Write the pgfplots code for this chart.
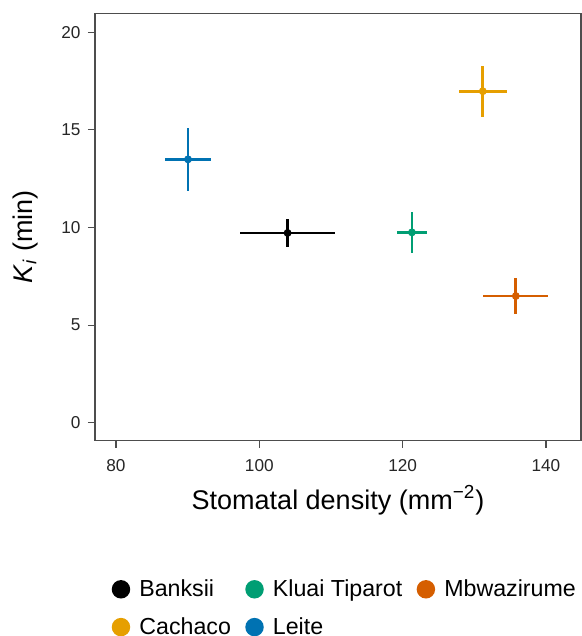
\documentclass[border=0pt]{standalone}
\usepackage{fontspec}
\setmainfont{Liberation Sans}
\usepackage{pgfplots}
\pgfplotsset{compat=1.18}
\definecolor{cBanksii}{HTML}{000000}
\definecolor{cKluai}{HTML}{009E73}
\definecolor{cMbwa}{HTML}{D55E00}
\definecolor{cCachaco}{HTML}{E69F00}
\definecolor{cLeite}{HTML}{0072B2}
\definecolor{framegray}{RGB}{77,77,77}
\pgfplotsset{
  kiseries/.style={only marks, color=#1, mark=*, mark size=1.75pt,
    mark options={fill=#1, draw=#1, line width=0.4pt},
    line width=1.4pt,
    error bars/x dir=both, error bars/x explicit,
    error bars/y dir=both, error bars/y explicit,
    error bars/error mark=none,
    error bars/error bar style={line width=1.4pt, color=#1},
    legend image code/.code={\fill[#1] (4pt,0pt) circle (3.9pt);}},
}
\begin{document}
\begin{tikzpicture}
\useasboundingbox (0,0) rectangle (291pt,318pt);
\begin{axis}[
  at={(47.5pt,97.65pt)}, anchor=south west,
  scale only axis, width=243pt, height=213.6pt,
  xmin=77.07, xmax=144.9, ymin=-0.92, ymax=20.96,
  xtick={80,100,120,140}, ytick={0,5,10,15,20},
  axis line style={color=framegray, line width=0.6pt},
  tick style={color=framegray, line width=0.6pt},
  tick align=outside, major tick length=3.5pt,
  xtick pos=lower, ytick pos=left,
  /pgf/number format/assume math mode=true,
  ticklabel style={font=\fontsize{8.6}{10}\selectfont, color=black!85},
  xticklabel style={anchor=north, inner sep=0pt, yshift=-5.6pt},
  yticklabel style={anchor=east, inner sep=0pt, xshift=-3.6pt},
  xlabel={Stomatal density (mm\textsuperscript{−2})},
  xlabel style={font=\fontsize{13.5}{16}\selectfont, at={(axis description cs:0.5,-0.16)}, anchor=base},
  ylabel={\textit{K}\textsubscript{\textit{i}} (min)},
  ylabel style={font=\fontsize{13.5}{16}\selectfont, at={(axis description cs:-0.144,0.477)}, anchor=center},
  legend columns=3,
  legend cell align=left,
  legend style={at={(axis description cs:0.516,-0.305)}, anchor=north, draw=none,
    font=\fontsize{11.6}{14}\selectfont, row sep=5pt,
    /tikz/every odd column/.append style={column sep=2.6pt},
    /tikz/every even column/.append style={column sep=5.2pt}},
]
\addplot[kiseries=cBanksii] coordinates {(103.95,9.72) +- (6.65,0.73)};
\addlegendentry{Banksii}
\addplot[kiseries=cKluai] coordinates {(121.3,9.75) +- (2.13,1.04)};
\addlegendentry{Kluai Tiparot}
\addplot[kiseries=cMbwa] coordinates {(135.8,6.49) +- (4.53,0.92)};
\addlegendentry{Mbwazirume}
\addplot[kiseries=cCachaco] coordinates {(131.19,16.98) +- (3.33,1.3)};
\addlegendentry{Cachaco}
\addplot[kiseries=cLeite] coordinates {(90.05,13.49) +- (3.15,1.62)};
\addlegendentry{Leite}
\end{axis}
\end{tikzpicture}
\end{document}
